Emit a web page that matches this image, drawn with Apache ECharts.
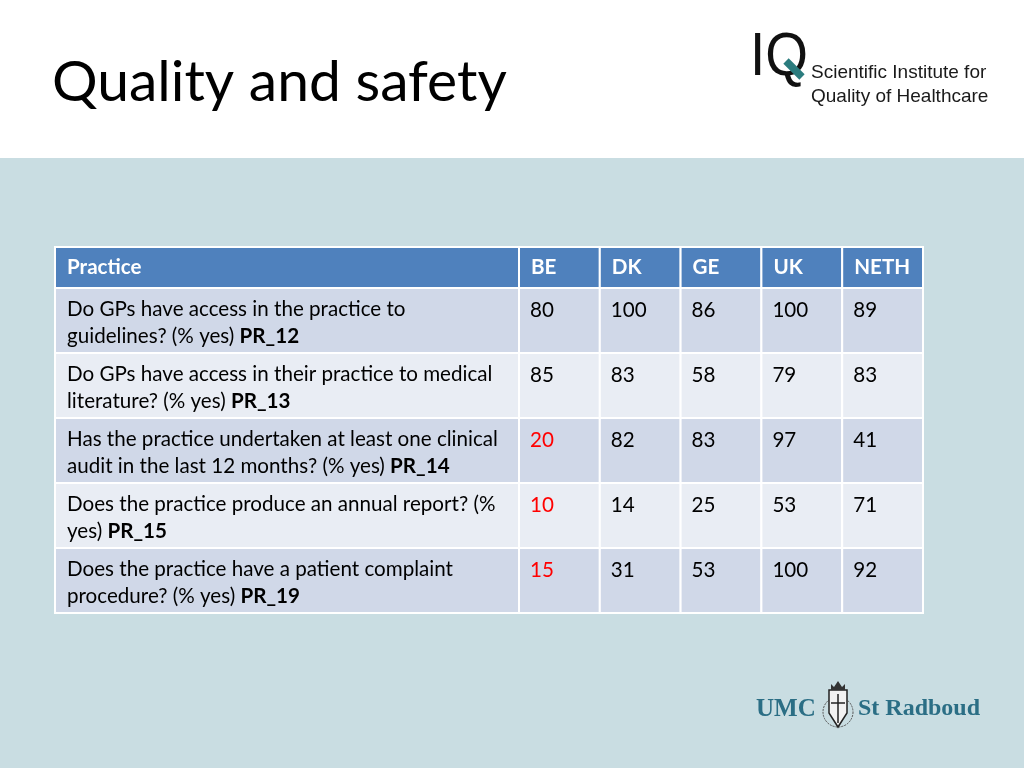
<!DOCTYPE html>
<html><head><meta charset="utf-8">
<script src="https://cdn.jsdelivr.net/npm/echarts@6/dist/echarts.min.js"></script>
<style>html,body{margin:0;padding:0;background:#fff}#c{width:1024px;height:768px}</style>
</head><body><div id="c"></div>
<script>
const titleText = 'Quality and safety';
const headerLabel = 'Practice';
const countries = ['BE', 'DK', 'GE', 'UK', 'NETH'];
const questions = [
  'Do GPs have access in the practice to\nguidelines? (% yes) ',
  'Do GPs have access in their practice to medical\nliterature? (% yes) ',
  'Has the practice undertaken at least one clinical\naudit in the last 12 months? (% yes) ',
  'Does the practice produce an annual report? (%\nyes) ',
  'Does the practice have a patient complaint\nprocedure? (% yes) '
];
const codes = ['PR_12', 'PR_13', 'PR_14', 'PR_15', 'PR_19'];
const valuesBE = [80, 85, 20, 10, 15];
const valuesDK = [100, 83, 82, 14, 31];
const valuesGE = [86, 58, 83, 25, 53];
const valuesUK = [100, 79, 97, 53, 100];
const valuesNETH = [89, 83, 41, 71, 92];

const columns = [valuesBE, valuesDK, valuesGE, valuesUK, valuesNETH];
const rowIds = codes.slice();

const FONT = 'Lato, "Open Sans", sans-serif';
const HEADER_BG = '#4f81bd';
const ROW_DARK = '#d0d8e8';
const ROW_LIGHT = '#e9edf4';
const TXT_SIZE = 20.6;

function cellRect(api, x, y) {
  const p = api.coord([x, y]);
  const s = api.size([1, 1]);
  return { x: p[0] - s[0] / 2, y: p[1] - s[1] / 2, width: s[0], height: s[1] };
}

function headerItem(labelFn) {
  return function (params, api) {
    const r = cellRect(api, api.value(0), api.value(1));
    return {
      type: 'group',
      children: [
        { type: 'rect', shape: r, style: { fill: HEADER_BG, stroke: '#ffffff', lineWidth: 2 } },
        { type: 'text', x: r.x + 12, y: r.y + r.height / 2,
          style: { text: labelFn(params.dataIndex), fill: '#ffffff', fontSize: TXT_SIZE, fontWeight: 'bold',
                   fontFamily: FONT, verticalAlign: 'middle', align: 'left' } }
      ]
    };
  };
}

const countryData = [];
columns.forEach((col, c) => col.forEach((v, r) => countryData.push([c, r, v])));
const questionData = questions.map((q, r) => [0, r]);

const SANS = '"Liberation Sans", Arial, sans-serif';
const SERIF = '"Liberation Serif", "Times New Roman", serif';

const option = {
  backgroundColor: '#ffffff',
  animation: false,
  title: {
    text: titleText, left: 47, top: 49,
    textStyle: { fontFamily: FONT, fontSize: 57, fontWeight: 'normal', color: '#000000' }
  },
  graphic: [
    { type: 'rect', z: -10, shape: { x: 0, y: 158, width: 1024, height: 610 }, style: { fill: '#c9dde2' } },
    // IQ logo
    { type: 'text', z: 10, x: 750, y: 28, scaleX: 0.9, style: { text: 'IQ', fontFamily: SANS, fontSize: 61, fontWeight: 'normal', fill: '#111111' } },
    { type: 'line', z: 12, shape: { x1: 786, y1: 61, x2: 802, y2: 77 }, style: { stroke: '#2b7c7e', lineWidth: 7.5 } },
    { type: 'text', z: 10, x: 811, y: 61, style: { text: 'Scientific Institute for\nQuality of Healthcare', lineHeight: 24, fontFamily: SANS, fontSize: 19, fill: '#1a1a1a' } },
    // UMC St Radboud
    { type: 'text', z: 10, x: 756, y: 697, style: { text: 'UMC', fontFamily: SERIF, fontSize: 25, fontWeight: 'bold', fill: '#2b6e85' } },
    { type: 'text', z: 10, x: 858, y: 697, style: { text: 'St Radboud', fontFamily: SERIF, fontSize: 24, fontWeight: 'bold', fill: '#2b6e85' } },
    { type: 'circle', z: 10, shape: { cx: 838, cy: 712, r: 15 }, style: { fill: 'none', stroke: '#555', lineWidth: 1, lineDash: [2, 1] } },
    { type: 'polygon', z: 10, shape: { points: [[829, 690], [847, 690], [847, 713], [838, 727], [829, 713]] }, style: { fill: '#f2f2f2', stroke: '#222', lineWidth: 1.5 } },
    { type: 'line', z: 11, shape: { x1: 838, y1: 694, x2: 838, y2: 723 }, style: { stroke: '#222', lineWidth: 1.5 } },
    { type: 'line', z: 11, shape: { x1: 831, y1: 703, x2: 845, y2: 703 }, style: { stroke: '#222', lineWidth: 1.5 } },
    { type: 'polygon', z: 11, shape: { points: [[831, 690], [831, 684], [834, 687], [838, 681], [842, 687], [845, 684], [845, 690]] }, style: { fill: '#333' } }
  ],
  grid: [
    { left: 55, top: 247, width: 464, height: 41 },
    { left: 519, top: 247, width: 404, height: 41 },
    { left: 55, top: 288, width: 464, height: 325 },
    { left: 519, top: 288, width: 404, height: 325 }
  ],
  xAxis: [
    { type: 'category', gridIndex: 0, data: [headerLabel], show: false },
    { type: 'category', gridIndex: 1, data: countries, show: false },
    { type: 'category', gridIndex: 2, data: [headerLabel], show: false },
    { type: 'category', gridIndex: 3, data: countries, show: false }
  ],
  yAxis: [
    { type: 'category', gridIndex: 0, data: ['h'], show: false },
    { type: 'category', gridIndex: 1, data: ['h'], show: false },
    { type: 'category', gridIndex: 2, data: rowIds, inverse: true, show: false },
    { type: 'category', gridIndex: 3, data: rowIds, inverse: true, show: false }
  ],
  series: [
    { type: 'custom', xAxisIndex: 0, yAxisIndex: 0, data: [[0, 0]],
      renderItem: headerItem(() => headerLabel) },
    { type: 'custom', xAxisIndex: 1, yAxisIndex: 1, data: countries.map((c, i) => [i, 0]),
      renderItem: headerItem(i => countries[i]) },
    { type: 'custom', xAxisIndex: 2, yAxisIndex: 2, data: questionData,
      renderItem: function (params, api) {
        const row = api.value(1);
        const r = cellRect(api, api.value(0), row);
        const lines = questions[row].split('\n');
        const txt = lines.map((l, i) => i === lines.length - 1
          ? '{n|' + l + '}{b|' + codes[row] + '}' : '{n|' + l + '}').join('\n');
        return {
          type: 'group',
          children: [
            { type: 'rect', shape: r, style: { fill: row % 2 === 0 ? ROW_DARK : ROW_LIGHT, stroke: '#ffffff', lineWidth: 2 } },
            { type: 'text', x: r.x + 12, y: r.y + 8,
              style: { text: txt, verticalAlign: 'top', align: 'left',
                rich: {
                  n: { fontSize: TXT_SIZE, fontFamily: FONT, color: '#000000', lineHeight: 27 },
                  b: { fontSize: TXT_SIZE, fontFamily: FONT, color: '#000000', fontWeight: 'bold', lineHeight: 27 }
                } } }
          ]
        };
      } },
    { type: 'custom', xAxisIndex: 3, yAxisIndex: 3, data: countryData,
      renderItem: function (params, api) {
        const col = api.value(0), row = api.value(1), v = api.value(2);
        const r = cellRect(api, col, row);
        const red = countries[col] === 'BE' && v < 50;
        return {
          type: 'group',
          children: [
            { type: 'rect', shape: r, style: { fill: row % 2 === 0 ? ROW_DARK : ROW_LIGHT, stroke: '#ffffff', lineWidth: 2 } },
            { type: 'text', x: r.x + 11, y: r.y + 22,
              style: { text: String(v), fill: red ? '#ff0000' : '#000000', fontSize: TXT_SIZE, fontFamily: FONT,
                       verticalAlign: 'middle', align: 'left' } }
          ]
        };
      } }
  ]
};

const chart = echarts.init(document.getElementById('c'), null, { renderer: 'canvas' });
chart.setOption(option);
</script>
</body></html>
